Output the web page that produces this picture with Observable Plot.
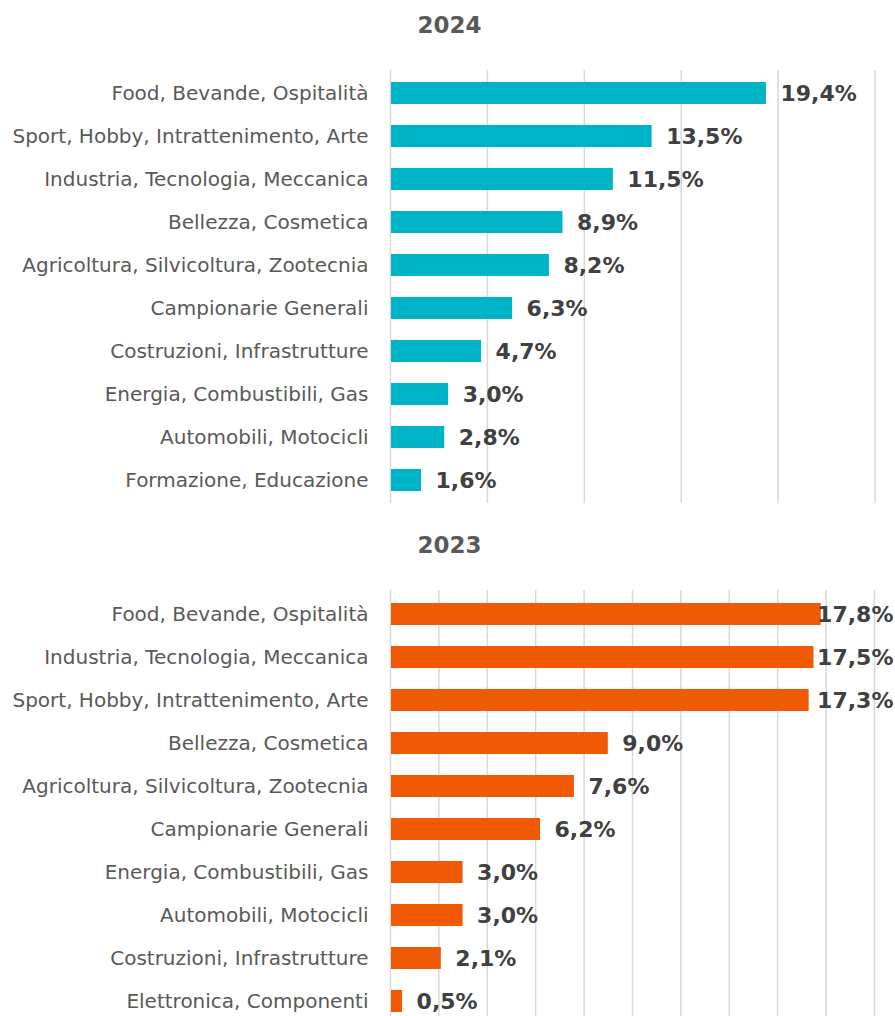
<!DOCTYPE html>
<html>
<head>
<meta charset="utf-8">
<script src="https://cdn.jsdelivr.net/npm/d3@7"></script>
<script src="https://cdn.jsdelivr.net/npm/@observablehq/plot@0.6"></script>
<style>
  html, body { margin: 0; padding: 0; background: #fff; overflow: hidden; }
  #root { width: 895px; height: 1016px; overflow: hidden; font-family: "DejaVu Sans", sans-serif; }
  .title { width: 895px; text-align: center; font-weight: bold; font-size: 23px; color: #595959; box-sizing: border-box; padding-left: 4px; }
  #t1 { height: 52px; line-height: 50px; }
  #t2 { height: 50px; line-height: 50px; }
  svg { display: block; overflow: hidden; }
</style>
</head>
<body>
<div id="root">
  <div class="title" id="t1"></div>
  <div id="c1"></div>
  <div class="title" id="t2"></div>
  <div id="c2"></div>
</div>
<script>
const title2024 = "2024";
const categories2024 = [
  "Food, Bevande, Ospitalità",
  "Sport, Hobby, Intrattenimento, Arte",
  "Industria, Tecnologia, Meccanica",
  "Bellezza, Cosmetica",
  "Agricoltura, Silvicoltura, Zootecnia",
  "Campionarie Generali",
  "Costruzioni, Infrastrutture",
  "Energia, Combustibili, Gas",
  "Automobili, Motocicli",
  "Formazione, Educazione"
];
const values2024 = [19.4, 13.5, 11.5, 8.9, 8.2, 6.3, 4.7, 3.0, 2.8, 1.6];
const grid2024 = [0, 5, 10, 15, 20, 25];

const title2023 = "2023";
const categories2023 = [
  "Food, Bevande, Ospitalità",
  "Industria, Tecnologia, Meccanica",
  "Sport, Hobby, Intrattenimento, Arte",
  "Bellezza, Cosmetica",
  "Agricoltura, Silvicoltura, Zootecnia",
  "Campionarie Generali",
  "Energia, Combustibili, Gas",
  "Automobili, Motocicli",
  "Costruzioni, Infrastrutture",
  "Elettronica, Componenti"
];
const values2023 = [17.8, 17.5, 17.3, 9.0, 7.6, 6.2, 3.0, 3.0, 2.1, 0.5];
const grid2023 = [0, 2, 4, 6, 8, 10, 12, 14, 16, 18, 20];

const fmt = v => v.toFixed(1).replace(".", ",") + "%";

function panel({categories, values, grid, domainMax, color, height, marginTop, marginBottom, marginRight, labelMax}) {
  const data = categories.map((c, i) => ({cat: c, v: values[i]}));
  return Plot.plot({
    width: 895,
    height,
    marginLeft: 390,
    marginRight,
    marginTop,
    marginBottom,
    style: {fontFamily: "DejaVu Sans, sans-serif", background: "#fff"},
    x: {domain: [0, domainMax], axis: null},
    y: {domain: categories, paddingInner: 0.5, paddingOuter: 0.25, axis: null},
    marks: [
      Plot.ruleX(grid, {stroke: "#d9d9d9", strokeWidth: 1.5}),
      Plot.barX(data, {x: "v", y: "cat", fill: color, insetLeft: 1}),
      Plot.axisY({tickSize: 0, tickPadding: 22, fontSize: 20, fill: "#595959", label: null}),
      Plot.text(data, {
        x: d => Math.min(d.v, labelMax),
        y: "cat",
        text: d => fmt(d.v),
        textAnchor: "start",
        dx: 14,
        fontSize: 22,
        fontWeight: "bold",
        fill: "#404040"
      })
    ]
  });
}

document.getElementById("t1").textContent = title2024;
document.getElementById("t2").textContent = title2023;

document.getElementById("c1").appendChild(panel({
  categories: categories2024, values: values2024, grid: grid2024, domainMax: 25,
  color: "#00B4C8", height: 468, marginTop: 18, marginBottom: 17, marginRight: 20.5, labelMax: 100
}));
document.getElementById("c2").appendChild(panel({
  categories: categories2023, values: values2023, grid: grid2023, domainMax: 20,
  color: "#F05A05", height: 446, marginTop: 20, marginBottom: -9, marginRight: 21, labelMax: 17.05
}));
</script>
</body>
</html>
